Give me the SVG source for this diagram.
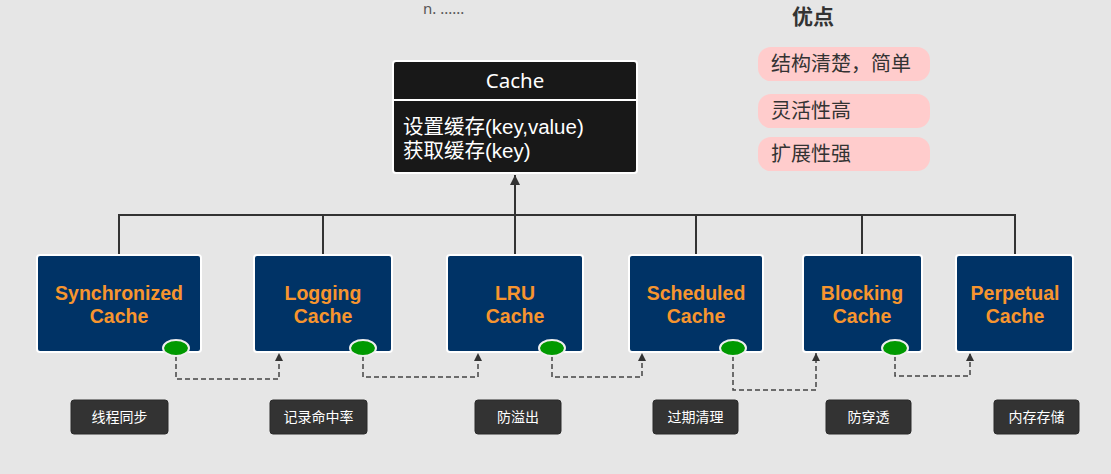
<svg xmlns="http://www.w3.org/2000/svg" width="1111" height="474" viewBox="0 0 1111 474">
<defs>
<style>
text{font-family:"Noto Sans","Noto Sans CJK SC",sans-serif}
.node rect{fill:#003366;stroke:#fff;stroke-width:2}
.node text{fill:#f7952e;font-family:"Liberation Sans",Arial,sans-serif;font-size:19.5px;font-weight:bold;text-anchor:middle}
.dot{fill:#009900;stroke:#eee;stroke-width:2}
.lbl rect{fill:#333;stroke:#2a2a2a;stroke-width:1}
.lbl text{fill:#fff;font-size:14px;text-anchor:middle}
.pill rect{fill:#ffcccc}
.pill text{fill:#333;font-size:20px}
.tree{fill:none;stroke:#333;stroke-width:2}
.dash{fill:none;stroke:#444;stroke-width:1.5;stroke-dasharray:5 3}
.body{fill:#fff;font-family:"Liberation Sans","Noto Sans CJK SC",sans-serif;font-size:20.5px}
</style>
<marker id="ah" viewBox="0 0 10 10" refX="10" refY="5" markerWidth="10" markerHeight="10" markerUnits="userSpaceOnUse" orient="auto">
<path d="M0,0 L10,5 L0,10 Z" fill="#333"/>
</marker>
<marker id="ah2" viewBox="0 0 10 10" refX="10" refY="5" markerWidth="9" markerHeight="8" markerUnits="userSpaceOnUse" orient="auto">
<path d="M0,0 L10,5 L0,10 Z" fill="#333"/>
</marker>
</defs>
<rect width="1111" height="474" fill="#e6e6e6"/>
<text x="423" y="14" font-size="15" fill="#555">n. ......</text>

<g id="connectors">
<path class="tree" d="M119,255 V215 H1015 V255 M323,215 V255 M696,215 V255 M862,215 V255"/>
<path class="tree" d="M515,255 V175" marker-end="url(#ah)"/>
<path class="dash" d="M176,356 V379 H279 V353" marker-end="url(#ah2)"/>
<path class="dash" d="M363,356 V377 H478 V353" marker-end="url(#ah2)"/>
<path class="dash" d="M552,356 V377 H642 V353" marker-end="url(#ah2)"/>
<path class="dash" d="M733,356 V390 H816 V353" marker-end="url(#ah2)"/>
<path class="dash" d="M895,356 V376 H970 V353" marker-end="url(#ah2)"/>
</g>

<g id="cache">
<rect x="393" y="61" width="244" height="112" rx="3" fill="#181818" stroke="#fff" stroke-width="2"/>
<line x1="393" y1="100" x2="637" y2="100" stroke="#fff" stroke-width="2"/>
<text x="515" y="88" fill="#fff" font-size="20.5" text-anchor="middle">Cache</text>
<text class="body" x="403" y="134">设置缓存(key,value)</text>
<text class="body" x="403" y="158">获取缓存(key)</text>
</g>

<g id="pros">
<text x="792" y="24" font-size="21" font-weight="bold" fill="#333">优点</text>
<g class="pill"><rect x="758" y="47" width="172" height="34" rx="13"/><text x="771" y="71">结构清楚，简单</text></g>
<g class="pill"><rect x="758" y="94" width="172" height="34" rx="13"/><text x="771" y="118">灵活性高</text></g>
<g class="pill"><rect x="758" y="137" width="172" height="34" rx="13"/><text x="771" y="161">扩展性强</text></g>
</g>

<g id="synchronized" class="node"><rect x="37" y="255" width="164" height="97" rx="3"/><text x="119" y="300">Synchronized</text><text x="119" y="323">Cache</text><ellipse class="dot" cx="176" cy="348" rx="13" ry="8"/></g>
<g id="logging" class="node"><rect x="254" y="255" width="138" height="97" rx="3"/><text x="323" y="300">Logging</text><text x="323" y="323">Cache</text><ellipse class="dot" cx="363" cy="348" rx="13" ry="8"/></g>
<g id="lru" class="node"><rect x="447" y="255" width="136" height="97" rx="3"/><text x="515" y="300">LRU</text><text x="515" y="323">Cache</text><ellipse class="dot" cx="552" cy="348" rx="13" ry="8"/></g>
<g id="scheduled" class="node"><rect x="629" y="255" width="134" height="97" rx="3"/><text x="696" y="300">Scheduled</text><text x="696" y="323">Cache</text><ellipse class="dot" cx="733" cy="348" rx="13" ry="8"/></g>
<g id="blocking" class="node"><rect x="803" y="255" width="119" height="97" rx="3"/><text x="862" y="300">Blocking</text><text x="862" y="323">Cache</text><ellipse class="dot" cx="895" cy="348" rx="13" ry="8"/></g>
<g id="perpetual" class="node"><rect x="956" y="255" width="117" height="97" rx="3"/><text x="1015" y="300">Perpetual</text><text x="1015" y="323">Cache</text></g>

<g id="lbl1" class="lbl"><rect x="71" y="400" width="97" height="34" rx="3"/><text x="119.5" y="422">线程同步</text></g>
<g id="lbl2" class="lbl"><rect x="270" y="400" width="97" height="34" rx="3"/><text x="318.5" y="422">记录命中率</text></g>
<g id="lbl3" class="lbl"><rect x="475" y="400" width="86" height="34" rx="3"/><text x="518" y="422">防溢出</text></g>
<g id="lbl4" class="lbl"><rect x="653" y="400" width="85" height="34" rx="3"/><text x="695.5" y="422">过期清理</text></g>
<g id="lbl5" class="lbl"><rect x="826" y="400" width="85" height="34" rx="3"/><text x="868.5" y="422">防穿透</text></g>
<g id="lbl6" class="lbl"><rect x="994" y="400" width="85" height="34" rx="3"/><text x="1036.5" y="422">内存存储</text></g>
</svg>
